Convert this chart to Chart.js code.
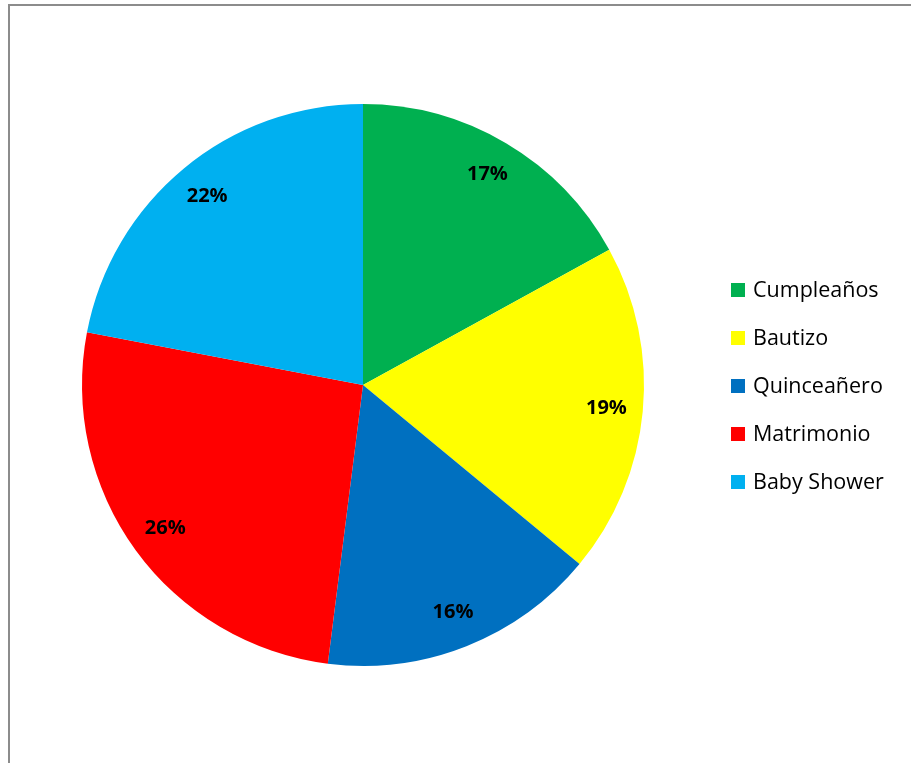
<!DOCTYPE html>
<html>
<head>
<meta charset="utf-8">
<script src="https://cdn.jsdelivr.net/npm/chart.js@4/dist/chart.umd.min.js"></script>
<style>
  html, body { margin: 0; padding: 0; background: #fff; overflow: hidden; }
  #wrap { position: relative; width: 911px; height: 763px; }
  #frame { position: absolute; left: 8px; top: 4px; width: 960px; height: 820px; border: 2px solid #8c8c8c; box-sizing: border-box; pointer-events: none; }
  canvas { position: absolute; left: 0; top: 0; }
</style>
</head>
<body>
<div id="wrap">
  <canvas id="chart-eventos" width="911" height="763"></canvas>
  <div id="frame"></div>
</div>
<script>
/* Distribución de eventos — pie */
const categories = ['Cumpleaños', 'Bautizo', 'Quinceañero', 'Matrimonio', 'Baby Shower'];
const percentages = [17, 19, 16, 26, 22];
const sliceColors = ['#00B050', '#FFFF00', '#0070C0', '#FF0000', '#00B0F0'];

const FONT = '"Open Sans", Lato, sans-serif';

// porcentajes en negrita dentro de cada porción
const sliceLabels = {
  id: 'sliceLabels',
  afterDatasetsDraw(chart) {
    const { ctx } = chart;
    const meta = chart.getDatasetMeta(0);
    ctx.save();
    ctx.font = 'bold 20px ' + FONT;
    ctx.fillStyle = '#000';
    ctx.textAlign = 'center';
    ctx.textBaseline = 'middle';
    meta.data.forEach((arc, i) => {
      const p = arc.getProps(['x', 'y', 'startAngle', 'endAngle', 'outerRadius'], true);
      const mid = (p.startAngle + p.endAngle) / 2;
      const r = p.outerRadius * 0.87;
      ctx.fillText(percentages[i] + '%', p.x + Math.cos(mid) * r, p.y + Math.sin(mid) * r);
    });
    ctx.restore();
  }
};

// leyenda a la derecha, cuadros + texto
const sideLegend = {
  id: 'sideLegend',
  afterDraw(chart) {
    const { ctx } = chart;
    const x0 = 731, yMid = 385, step = 48, box = 14;
    const n = categories.length;
    ctx.save();
    ctx.font = '21.5px ' + FONT;
    ctx.textBaseline = 'middle';
    categories.forEach((name, i) => {
      const y = yMid + (i - (n - 1) / 2) * step;
      ctx.fillStyle = sliceColors[i];
      ctx.fillRect(x0, y - box / 2 + 1, box, box);
      ctx.fillStyle = '#000';
      ctx.fillText(name, x0 + 22, y + 2);
    });
    ctx.restore();
  }
};

new Chart(document.getElementById('chart-eventos'), {
  type: 'pie',
  data: {
    labels: categories,
    datasets: [{
      data: percentages,
      backgroundColor: sliceColors,
      borderWidth: 0
    }]
  },
  options: {
    responsive: false,
    animation: false,
    layout: { padding: { left: 82, top: 104, right: 267, bottom: 97 } },
    plugins: {
      legend: { display: false },
      tooltip: { enabled: false }
    }
  },
  plugins: [sliceLabels, sideLegend]
});
</script>
</body>
</html>
